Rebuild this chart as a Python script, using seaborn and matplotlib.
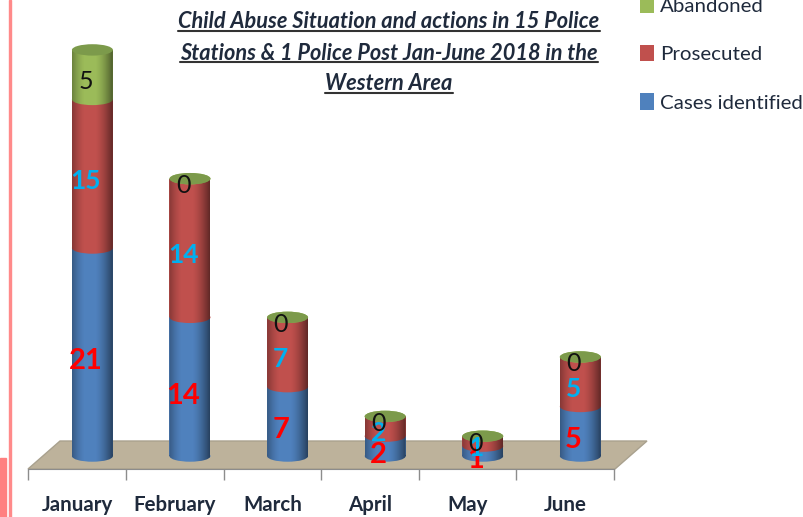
import numpy as np
import pandas as pd
import matplotlib.pyplot as plt
import seaborn as sns
from matplotlib.lines import Line2D
from matplotlib.patches import Ellipse, Polygon, Rectangle
from matplotlib.path import Path
from matplotlib.transforms import Affine2D

months = ["January", "February", "March", "April", "May", "June"]
cases_identified = [21, 14, 7, 2, 1, 5]
prosecuted = [15, 14, 7, 2, 1, 5]
abandoned = [5, 0, 0, 0, 0, 0]
title_lines = [
    "Child Abuse Situation and actions in 15 Police",
    "Stations & 1 Police Post Jan-June 2018 in the",
    "Western Area",
]

W, H = 804, 517
BLUE, RED, GREEN = "#4F81BD", "#C0504D", "#9BBB59"
BAR_W = 0.42
ELL_H = 1.15
FONT = "Lato"


def fx(x):
    return x / W


def fy(y):
    return 1 - y / H


def add_shading(ax, i, total):
    # dark edges of the cylinder, clipped to the body of the column
    xs = np.linspace(-1, 1, 120)
    alpha = np.clip(np.abs(xs + 0.12) - 0.25, 0, None) ** 1.5 * 0.62
    img = np.zeros((1, 120, 4))
    img[0, :, 3] = alpha
    extent = [i - BAR_W / 2, i + BAR_W / 2, -ELL_H, total + ELL_H]
    im = ax.imshow(img, extent=extent, aspect="auto", zorder=3, interpolation="bilinear")
    rect = Path.unit_rectangle().transformed(Affine2D().scale(BAR_W, total).translate(i - BAR_W / 2, 0))
    ell = Path.unit_circle().transformed(Affine2D().scale(BAR_W / 2, ELL_H / 2).translate(i, 0))
    im.set_clip_path(Path.make_compound_path(rect, ell), ax.transData)


sns.set_style("white")
plt.rcParams["font.family"] = [FONT, "DejaVu Sans"]

fig = plt.figure(figsize=(W / 100, H / 100), dpi=100)
ax = fig.add_axes([fx(28), fy(469), (614 - 28) / W, (469 - 40) / H])
ax.patch.set_visible(False)

# floor of the 3D chart and the red slide decoration
fig.add_artist(Polygon([(fx(28), fy(469)), (fx(60), fy(441)), (fx(647), fy(441)), (fx(615), fy(469))],
                       transform=fig.transFigure, facecolor="#BDB29B", edgecolor="#A9A18E", lw=1, zorder=-1))
fig.add_artist(Rectangle((fx(9), 0), 2.5 / W, 1, transform=fig.transFigure, color="#FF8A8A", zorder=-1))
fig.add_artist(Rectangle((0, 0), fx(6), 59 / H, transform=fig.transFigure, color="#FF8080", zorder=-1))

series = [
    ("Cases identified", cases_identified, BLUE),
    ("Prosecuted", prosecuted, RED),
    ("Abandoned", abandoned, GREEN),
]
df = pd.DataFrame({"month": months})
base = np.zeros(len(months))
for name, vals, col in series:
    df["value"] = vals
    sns.barplot(data=df, x="month", y="value", bottom=base, color=col, saturation=1,
                width=BAR_W, linewidth=0, label=name, ax=ax, zorder=2)
    for i, v in enumerate(vals):
        # front curve of this segment hangs over the one below it
        ax.add_patch(Ellipse((i, base[i]), BAR_W, ELL_H, facecolor=col, edgecolor="none", zorder=2))
    base = base + np.array(vals)

for i, total in enumerate(base):
    add_shading(ax, i, total)
    ax.add_patch(Ellipse((i, total), BAR_W, ELL_H, facecolor="#7C9A4B", edgecolor="none", zorder=4))

# value labels
base = np.zeros(len(months))
label_styles = [("#FF0000", 21, -6.5), ("#00B0F0", 19, -5), ("#111111", 18, -5)]
for (name, vals, col), (tc, fs, dy) in zip(series, label_styles):
    for i, v in enumerate(vals):
        ax.annotate(str(v), (i, base[i] + v / 2), xytext=(-5, dy), textcoords="offset points",
                    ha="center", va="center", color=tc, fontsize=fs, zorder=6,
                    fontweight="bold" if tc != "#111111" else "normal",
                    annotation_clip=False)
    base = base + np.array(vals)

ax.set_xlim(-0.66, 5.338)
ax.set_ylim(-1.31, 42.0)
ax.set_xlabel("")
ax.set_ylabel("")
ax.set_yticks([])
slots = np.arange(len(months)) - 0.155
ax.set_xticks(slots, months, fontsize=14.8, fontweight="bold", color="#1F2A3C")
ax.set_xticks(np.append(slots - 0.5, slots[-1] + 0.5), minor=True)
ax.tick_params(axis="x", which="major", length=0, pad=18.5)
ax.tick_params(axis="x", which="minor", length=8, width=1, color="#8C8C8C", bottom=True)
sns.despine(ax=ax, left=True)
ax.spines["bottom"].set_color("#8C8C8C")

# legend is reversed and cut off by the top of the image
handles, labels = ax.get_legend_handles_labels()
ax.get_legend().remove()
fig.legend(handles[::-1], labels[::-1], loc="upper left", bbox_to_anchor=(fx(622), fy(-21.5)),
           frameon=False, fontsize=14.75, labelcolor="#1F2A3C", labelspacing=1.46,
           handlelength=0.66, handleheight=0.85, handletextpad=0.28)

# title, underlined by hand
renderer = fig.canvas.get_renderer()
for line, y, uy in zip(title_lines, [21.5, 53, 83.5], [31, 62, 93]):
    t = fig.text(fx(389), fy(y), line, ha="center", va="center", fontsize=15.7,
                 fontweight="bold", fontstyle="italic", color="#1F2A3C")
    bb = t.get_window_extent(renderer)
    fig.add_artist(Line2D([bb.x0 / W, bb.x1 / W], [fy(uy)] * 2, transform=fig.transFigure,
                          color="#333333", lw=1.5))

fig.savefig("out.png", dpi=100)
